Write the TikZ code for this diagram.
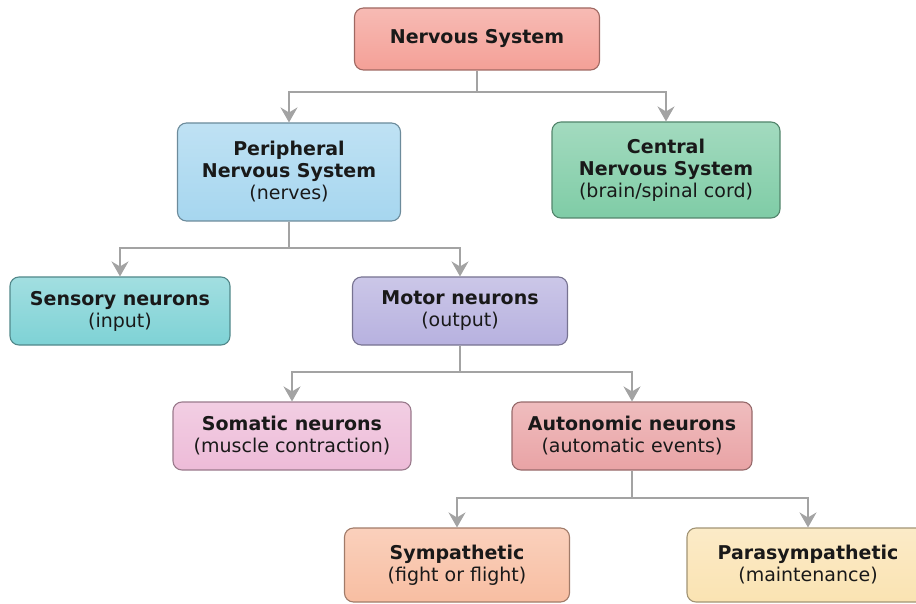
\documentclass[tikz,border=0pt]{standalone}
\usepackage{fontspec}
\setmainfont{DejaVu Sans}
\usetikzlibrary{arrows.meta}
\definecolor{nsred}{HTML}{F4A097}
\definecolor{pnsblue}{HTML}{A6D6EF}
\definecolor{cnsgreen}{HTML}{7FCCA6}
\definecolor{senteal}{HTML}{7ED2D5}
\definecolor{motlilac}{HTML}{B7B1DF}
\definecolor{sompink}{HTML}{EDBBD8}
\definecolor{autrose}{HTML}{E9A3A5}
\definecolor{sympeach}{HTML}{F8BEA2}
\definecolor{parcream}{HTML}{FAE3B2}
\definecolor{linkgray}{HTML}{A3A3A3}

\begin{document}
\begin{tikzpicture}[x=1pt, y=-1pt,
  box/.style={rounded corners=9pt, draw=#1!65!black, line width=1.1pt,
    top color=#1!72!white, bottom color=#1, align=center, text=black!90,
    font=\fontsize{19}{22}\selectfont, inner sep=1pt},
  link/.style={draw=linkgray, line width=1.6pt},
  arr/.style={link, -{Stealth[length=15pt, width=17pt, inset=5pt]}}]
\useasboundingbox (0,0) rectangle (916,604);
\clip (0,0) rectangle (916,604);
\node[box=nsred, minimum width=245pt, minimum height=62pt] (ns) at (477,39) {\textbf{Nervous System}};
\node[box=pnsblue, minimum width=223pt, minimum height=98pt] (pns) at (289,172) {\textbf{Peripheral}\\\textbf{Nervous System}\\(nerves)};
\node[box=cnsgreen, minimum width=228pt, minimum height=96pt] (cns) at (666,170) {\textbf{Central}\\\textbf{Nervous System}\\(brain/spinal cord)};
\node[box=senteal, minimum width=220pt, minimum height=68pt] (sens) at (120,311) {\textbf{Sensory neurons}\\(input)};
\node[box=motlilac, minimum width=215pt, minimum height=68pt] (mot) at (460,311) {\textbf{Motor neurons}\\(output)};
\node[box=sompink, minimum width=238pt, minimum height=68pt] (som) at (292,436) {\textbf{Somatic neurons}\\(muscle contraction)};
\node[box=autrose, minimum width=240pt, minimum height=68pt] (aut) at (632,436) {\textbf{Autonomic neurons}\\(automatic events)};
\node[box=sympeach, minimum width=225pt, minimum height=74pt] (sym) at (457,565) {\textbf{Sympathetic}\\(fight or flight)};
\node[box=parcream, minimum width=242pt, minimum height=74pt] (para) at (808,565) {\textbf{Parasympathetic}\\(maintenance)};
\coordinate (j1) at (477,92);
\coordinate (j2) at (289,248);
\coordinate (j3) at (460,372);
\coordinate (j4) at (632,498);
\draw[link] (ns) -- (j1);
\draw[arr] (j1) -| (pns);
\draw[arr] (j1) -| (cns);
\draw[link] (pns) -- (j2);
\draw[arr] (j2) -| (sens);
\draw[arr] (j2) -| (mot);
\draw[link] (mot) -- (j3);
\draw[arr] (j3) -| (som);
\draw[arr] (j3) -| (aut);
\draw[link] (aut) -- (j4);
\draw[arr] (j4) -| (sym);
\draw[arr] (j4) -| (para);
\end{tikzpicture}
\end{document}
